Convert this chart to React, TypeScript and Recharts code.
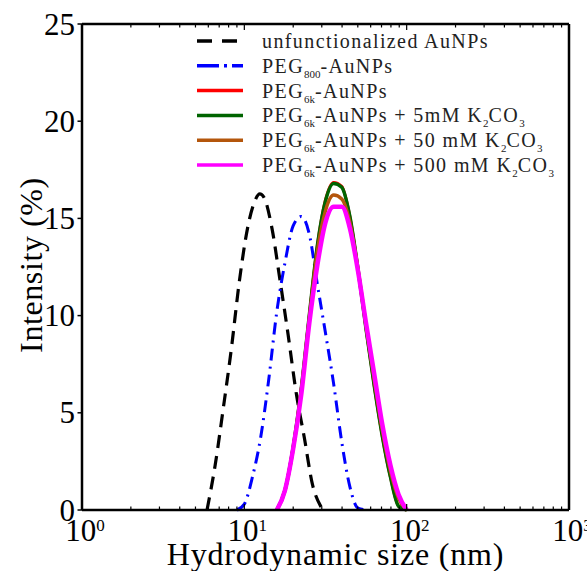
import { Label, Legend, Line, LineChart, XAxis, YAxis } from "recharts";

const FONT = "'Liberation Serif', 'Times New Roman', serif";

// DLS size distributions (size in nm, intensity in %)
const bareSizes = [5.89, 6.61, 7.41, 8.32, 9.33, 10.47, 11.75, 12.45, 13.18, 14.79, 16.6, 18.62, 20.89, 23.44, 26.3, 29.51, 30.55];
const bareIntensity = [0, 2.3, 5.2, 8.3, 11.8, 14.5, 16.0, 16.26, 16.1, 14.5, 11.8, 9.0, 6.0, 3.7, 1.3, 0.2, 0];

const peg800Sizes = [9.02, 10, 11.22, 12.59, 14.13, 15.85, 17.78, 19.95, 22.39, 25.12, 28.18, 31.62, 35.48, 39.81, 44.67, 50.12, 57.8];
const peg800Intensity = [0, 0.3, 1.7, 3.7, 6.7, 10.2, 12.7, 14.6, 15.1, 14.2, 11.6, 9.1, 6.5, 3.5, 1.2, 0.1, 0];

const peg6kSizes = [15.85, 17.78, 19.95, 22.39, 25.12, 28.18, 31.62, 35.48, 39.81, 44.67, 50.12, 56.23, 63.1, 70.79, 79.43, 89.13, 100];
const peg6kIntensity = [0, 1.0, 3.2, 6.2, 10.0, 13.6, 15.95, 16.85, 16.65, 15.1, 12.4, 9.3, 6.4, 3.8, 1.7, 0.2, 0];
const peg6k5mMIntensity = [0, 1.0, 3.2, 6.2, 10.0, 13.6, 15.9, 16.8, 16.6, 15.1, 12.4, 9.3, 6.4, 3.8, 1.7, 0.2, 0];
const peg6k50mMIntensity = [0, 1.0, 3.1, 6.1, 9.8, 13.3, 15.4, 16.2, 16.0, 14.8, 12.4, 9.5, 6.7, 4.1, 2.0, 0.6, 0];
const peg6k500mMIntensity = [0, 1.0, 3.1, 5.9, 9.6, 12.6, 14.8, 15.6, 15.6, 14.5, 12.3, 9.6, 7.0, 4.4, 2.3, 0.8, 0];

const majorXTicks = [1, 10, 100, 1000];
const xTickExponents = ["0", "1", "2", "3"];
const minorXTicks = [2, 3, 4, 5, 6, 7, 8, 9, 20, 30, 40, 50, 60, 70, 80, 90, 200, 300, 400, 500, 600, 700, 800, 900];
const yTicks = [0, 5, 10, 15, 20, 25];

const toPoints = (sizes: number[], values: number[]) => sizes.map((x, i) => ({ x, y: values[i] }));

const series = [
  { name: "unfunctionalized AuNPs", data: toPoints(bareSizes, bareIntensity), color: "#000000", width: 3.2, dash: "13 8", key: "15 10" },
  { name: "PEG_{800}-AuNPs", data: toPoints(peg800Sizes, peg800Intensity), color: "#0000ff", width: 3, dash: "12 6 2 6", key: "22 5 3 5" },
  { name: "PEG_{6k}-AuNPs", data: toPoints(peg6kSizes, peg6kIntensity), color: "#ff0000", width: 3 },
  { name: "PEG_{6k}-AuNPs + 5mM K_{2}CO_{3}", data: toPoints(peg6kSizes, peg6k5mMIntensity), color: "#006400", width: 3.5 },
  { name: "PEG_{6k}-AuNPs + 50 mM K_{2}CO_{3}", data: toPoints(peg6kSizes, peg6k50mMIntensity), color: "#b4560c", width: 3.5 },
  { name: "PEG_{6k}-AuNPs + 500 mM K_{2}CO_{3}", data: toPoints(peg6kSizes, peg6k500mMIntensity), color: "#ff00ff", width: 4.5 },
];

// "_{...}" marks a subscript
function RichLabel({ text, x, y }: { text: string; x: number; y: number }) {
  const parts = text.split(/_\{([^}]*)\}/);
  let shift = 0;
  return (
    <text x={x} y={y} fontFamily={FONT} fontSize={20} fill="#222">
      {parts.map((p, i) => {
        const sub = i % 2 === 1;
        const dy = sub ? 5 - shift : -shift;
        shift = sub ? 5 : 0;
        return (
          <tspan key={i} dy={dy} fontSize={sub ? 11 : 20} letterSpacing={sub ? 0 : 1.4}>
            {p}
          </tspan>
        );
      })}
    </text>
  );
}

function LegendBox() {
  return (
    <svg width={390} height={160}>
      {series.map((s, i) => {
        const cy = 13 + i * 24.8;
        return (
          <g key={s.name}>
            <line x1={7} x2={53} y1={cy} y2={cy} stroke={s.color} strokeWidth={3.5} strokeDasharray={s.key} />
            <RichLabel text={s.name} x={72} y={cy + 7} />
          </g>
        );
      })}
    </svg>
  );
}

function BottomTick({ x, y, payload }: any) {
  const idx = majorXTicks.indexOf(payload.value);
  const major = idx >= 0;
  return (
    <g>
      <line x1={x} x2={x} y1={y} y2={y - (major ? 6 : 3.5)} stroke="#000" strokeWidth={1.2} />
      {major && (
        <text x={x + 3} y={y + 31} textAnchor="middle" fontFamily={FONT} fontSize={31} fill="#000">
          <tspan>10</tspan>
          <tspan dy={-10} fontSize={17}>{xTickExponents[idx]}</tspan>
        </text>
      )}
    </g>
  );
}

function TopTick({ x, y, payload }: any) {
  const major = majorXTicks.includes(payload.value);
  return <line x1={x} x2={x} y1={y} y2={y + (major ? 6 : 3.5)} stroke="#000" strokeWidth={1.2} />;
}

function LeftTick({ x, y, payload }: any) {
  return (
    <g>
      <line x1={x - 4.5} x2={x} y1={y} y2={y} stroke="#000" strokeWidth={1.5} />
      <text x={x - 7} y={y} dy="0.34em" textAnchor="end" fontFamily={FONT} fontSize={31} fill="#000">
        {payload.value}
      </text>
    </g>
  );
}

function RightTick({ x, y }: any) {
  return <line x1={x} x2={x + 4.5} y1={y} y2={y} stroke="#000" strokeWidth={1.5} />;
}

const frame = { stroke: "#000", strokeWidth: 2.5 };

export default function App() {
  return (
    <div style={{ position: "absolute", left: 0, top: 0, background: "#fff" }}>
      <LineChart width={587} height={571} margin={{ top: 0, right: 0, bottom: 0, left: 0 }}>
        <XAxis
          xAxisId="bottom"
          dataKey="x"
          type="number"
          scale="log"
          domain={[1, 1000]}
          allowDataOverflow
          ticks={[...majorXTicks, ...minorXTicks]}
          interval={0}
          height={61}
          tickSize={0}
          tickMargin={0}
          tickLine={false}
          axisLine={frame}
          tick={<BottomTick />}
        >
          <Label
            content={({ viewBox }: any) => (
              <text
                x={viewBox.x + viewBox.width / 2 + 10}
                y={viewBox.y + 55}
                textAnchor="middle"
                fontFamily={FONT}
                fontSize={32}
                letterSpacing={0.8}
                fill="#000"
              >
                Hydrodynamic size (nm)
              </text>
            )}
          />
        </XAxis>
        <XAxis
          xAxisId="top"
          orientation="top"
          dataKey="x"
          type="number"
          scale="log"
          domain={[1, 1000]}
          allowDataOverflow
          ticks={[...majorXTicks, ...minorXTicks]}
          interval={0}
          height={24}
          tickSize={0}
          tickMargin={0}
          tickLine={false}
          axisLine={frame}
          tick={<TopTick />}
        />
        <YAxis
          yAxisId="left"
          type="number"
          domain={[0, 25]}
          ticks={yTicks}
          interval={0}
          width={82}
          tickSize={0}
          tickMargin={0}
          tickLine={false}
          axisLine={frame}
          tick={<LeftTick />}
        >
          <Label
            content={({ viewBox }: any) => {
              const cx = viewBox.x + 42;
              const cy = viewBox.y + viewBox.height / 2 - 2;
              return (
                <text
                  x={cx}
                  y={cy}
                  transform={`rotate(-90, ${cx}, ${cy})`}
                  textAnchor="middle"
                  fontFamily={FONT}
                  fontSize={32}
                  letterSpacing={0.6}
                  fill="#000"
                >
                  Intensity (%)
                </text>
              );
            }}
          />
        </YAxis>
        <YAxis
          yAxisId="right"
          orientation="right"
          type="number"
          domain={[0, 25]}
          ticks={yTicks}
          interval={0}
          width={18}
          tickSize={0}
          tickMargin={0}
          tickLine={false}
          axisLine={frame}
          tick={<RightTick />}
        />
        {series.map((s) => (
          <Line
            key={s.name}
            xAxisId="bottom"
            yAxisId="left"
            data={s.data}
            dataKey="y"
            type="monotone"
            stroke={s.color}
            strokeWidth={s.width}
            strokeDasharray={s.dash}
            dot={false}
            activeDot={false}
            isAnimationActive={false}
          />
        ))}
        <Legend
          layout="vertical"
          align="center"
          verticalAlign="middle"
          wrapperStyle={{ left: 190, top: 28, width: 390 }}
          content={() => <LegendBox />}
        />
      </LineChart>
    </div>
  );
}
